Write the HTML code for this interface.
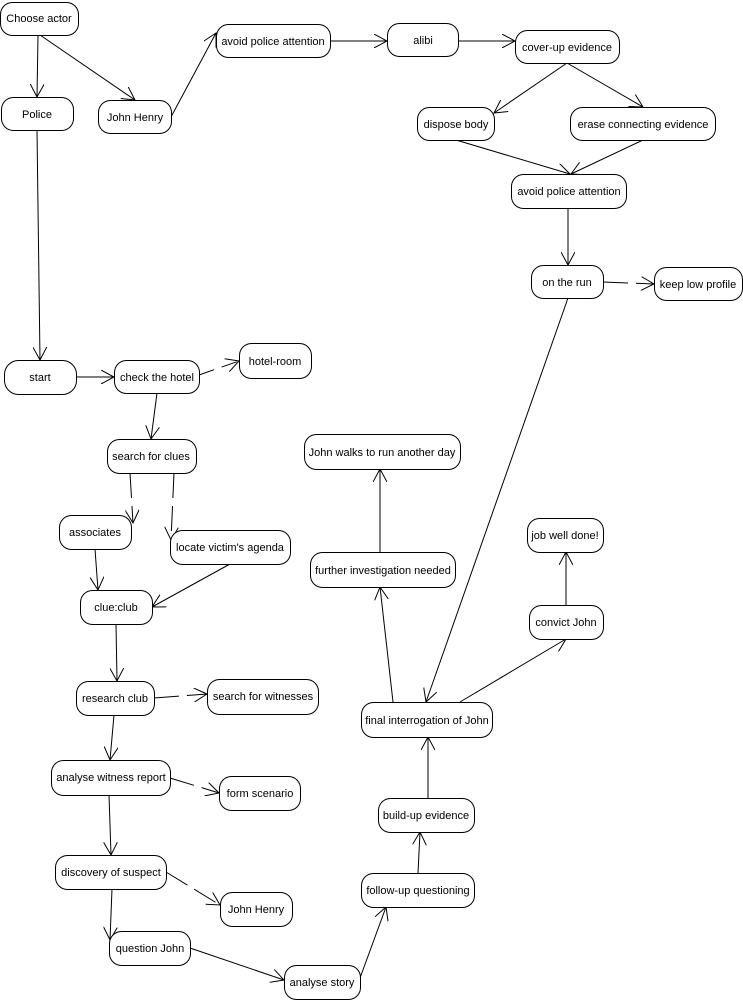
<!DOCTYPE html>
<html><head><meta charset="utf-8"><style>
html,body{margin:0;padding:0;background:#fff;width:743px;height:1000px;overflow:hidden}
text{font-family:"Liberation Sans",Arial,sans-serif;font-size:11px;fill:#000}
</style></head><body>
<svg width="743" height="1000" viewBox="0 0 743 1000" xmlns="http://www.w3.org/2000/svg">
<defs><marker id="a" markerWidth="14" markerHeight="14" refX="13" refY="7" orient="auto" markerUnits="userSpaceOnUse">
<path d="M0,0 L13,7 L0,14" fill="none" stroke="#000" stroke-width="1"/></marker></defs>
<g stroke="#000" stroke-width="1" fill="none" marker-end="url(#a)">
<line x1="38" y1="35" x2="37" y2="97"/>
<line x1="40" y1="35" x2="135" y2="100"/>
<line x1="171" y1="117" x2="216" y2="33"/>
<line x1="330" y1="41" x2="387" y2="41"/>
<line x1="458" y1="41" x2="515" y2="41"/>
<line x1="567" y1="63" x2="494" y2="113"/>
<line x1="567" y1="63" x2="643" y2="107"/>
<line x1="456" y1="140" x2="570" y2="174"/>
<line x1="643" y1="140" x2="571" y2="174"/>
<line x1="568" y1="208" x2="568" y2="265"/>
<line x1="603" y1="282" x2="654" y2="284" stroke-dasharray="25,8"/>
<line x1="568" y1="298" x2="426" y2="702"/>
<line x1="37" y1="130" x2="40" y2="360"/>
<line x1="76" y1="377" x2="114" y2="377"/>
<line x1="199" y1="375" x2="239" y2="361" stroke-dasharray="16,8"/>
<line x1="157" y1="393" x2="151" y2="439"/>
<line x1="130" y1="473" x2="133" y2="523" stroke-dasharray="25,8"/>
<line x1="174" y1="473" x2="171" y2="540" stroke-dasharray="25,8"/>
<line x1="95" y1="549" x2="98" y2="590"/>
<line x1="230" y1="564" x2="152" y2="607"/>
<line x1="116" y1="624" x2="117" y2="681"/>
<line x1="154" y1="698" x2="207" y2="694" stroke-dasharray="25,8"/>
<line x1="114" y1="715" x2="110" y2="760"/>
<line x1="170" y1="778" x2="219" y2="793" stroke-dasharray="25,8"/>
<line x1="109" y1="795" x2="111" y2="855"/>
<line x1="166" y1="872" x2="220" y2="905" stroke-dasharray="25,8"/>
<line x1="112" y1="889" x2="110" y2="940"/>
<line x1="190" y1="948" x2="284" y2="980"/>
<line x1="360" y1="978" x2="386" y2="907"/>
<line x1="418" y1="873" x2="420" y2="832"/>
<line x1="428" y1="798" x2="428" y2="737"/>
<line x1="393" y1="702" x2="380" y2="587"/>
<line x1="380" y1="552" x2="380" y2="469"/>
<line x1="460" y1="702" x2="566" y2="639"/>
<line x1="566" y1="605" x2="566" y2="552"/>
</g>
<g fill="#fff" stroke="#000" stroke-width="1">
<rect x="0.5" y="2.5" width="78" height="33" rx="12"/>
<rect x="1.5" y="97.5" width="72" height="33" rx="12"/>
<rect x="98.5" y="100.5" width="73" height="33" rx="12"/>
<rect x="216.5" y="24.5" width="114" height="33" rx="12"/>
<rect x="387.5" y="23.5" width="71" height="33" rx="12"/>
<rect x="515.5" y="30.5" width="104" height="33" rx="12"/>
<rect x="417.5" y="107.5" width="77" height="33" rx="12"/>
<rect x="570.5" y="107.5" width="145" height="33" rx="12"/>
<rect x="511.5" y="174.5" width="115" height="34" rx="12"/>
<rect x="531.5" y="265.5" width="72" height="33" rx="12"/>
<rect x="654.5" y="267.5" width="88" height="33" rx="12"/>
<rect x="4.5" y="360.5" width="72" height="34" rx="14"/>
<rect x="114.5" y="360.5" width="85" height="33" rx="12"/>
<rect x="239.5" y="343.5" width="72" height="35" rx="12"/>
<rect x="107.5" y="439.5" width="89" height="34" rx="12"/>
<rect x="59.5" y="515.5" width="72" height="34" rx="12"/>
<rect x="170.5" y="530.5" width="120" height="34" rx="12"/>
<rect x="80.5" y="590.5" width="72" height="34" rx="12"/>
<rect x="76.5" y="681.5" width="78" height="34" rx="12"/>
<rect x="207.5" y="679.5" width="111" height="35" rx="12"/>
<rect x="51.5" y="760.5" width="119" height="35" rx="12"/>
<rect x="219.5" y="776.5" width="81" height="34" rx="12"/>
<rect x="55.5" y="855.5" width="111" height="34" rx="12"/>
<rect x="220.5" y="892.5" width="72" height="34" rx="12"/>
<rect x="109.5" y="931.5" width="81" height="34" rx="12"/>
<rect x="284.5" y="965.5" width="76" height="34" rx="12"/>
<rect x="361.5" y="873.5" width="113" height="34" rx="12"/>
<rect x="378.5" y="798.5" width="96" height="34" rx="12"/>
<rect x="361.5" y="702.5" width="131" height="35" rx="12"/>
<rect x="310.5" y="552.5" width="145" height="35" rx="12"/>
<rect x="304.5" y="434.5" width="156" height="35" rx="12"/>
<rect x="527.5" y="518.5" width="76" height="34" rx="12"/>
<rect x="529.5" y="605.5" width="74" height="34" rx="12"/>
</g>
<g text-anchor="middle">
<text x="39" y="22">Choose actor</text>
<text x="37" y="118">Police</text>
<text x="135" y="121">John Henry</text>
<text x="273" y="45">avoid police attention</text>
<text x="423" y="44">alibi</text>
<text x="567" y="51">cover-up evidence</text>
<text x="456" y="128">dispose body</text>
<text x="643" y="128">erase connecting evidence</text>
<text x="569" y="195">avoid police attention</text>
<text x="567" y="286">on the run</text>
<text x="698" y="288">keep low profile</text>
<text x="40" y="381">start</text>
<text x="157" y="381">check the hotel</text>
<text x="275" y="365">hotel-room</text>
<text x="151" y="460">search for clues</text>
<text x="95" y="536">associates</text>
<text x="230" y="551">locate victim's agenda</text>
<text x="116" y="611">clue:club</text>
<text x="115" y="702">research club</text>
<text x="263" y="700">search for witnesses</text>
<text x="111" y="781">analyse witness report</text>
<text x="260" y="797">form scenario</text>
<text x="111" y="876">discovery of suspect</text>
<text x="256" y="913">John Henry</text>
<text x="150" y="952">question John</text>
<text x="322" y="986">analyse story</text>
<text x="418" y="894">follow-up questioning</text>
<text x="426" y="819">build-up evidence</text>
<text x="427" y="724">final interrogation of John</text>
<text x="383" y="574">further investigation needed</text>
<text x="382" y="456">John walks to run another day</text>
<text x="565" y="539">job well done!</text>
<text x="566" y="626">convict John</text>
</g>
</svg>
</body></html>
